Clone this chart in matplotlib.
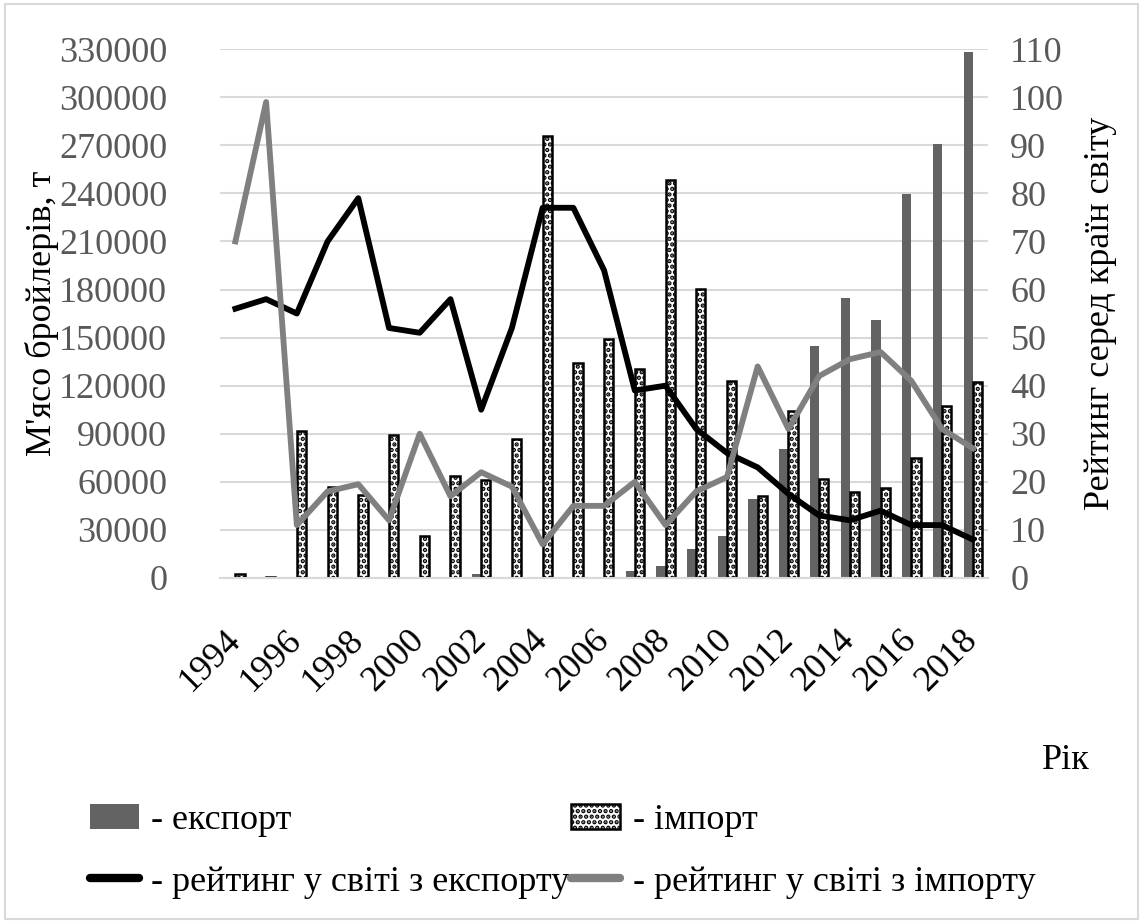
import numpy as np
import matplotlib
matplotlib.use('Agg')
import matplotlib.pyplot as plt
import matplotlib.transforms as mtransforms
from matplotlib.patches import Patch, Rectangle
from matplotlib.lines import Line2D

plt.rcParams['font.family'] = ['Liberation Serif', 'DejaVu Serif']
plt.rcParams['hatch.linewidth'] = 2.2

years = list(range(1994, 2019))
export_t = [0, 0, 0, 0, 0, 0, 0, 0, 2700, 0, 0, 0, 0, 4500, 7500, 18000,
            26500, 49000, 80500, 145000, 174500, 161000, 239500, 270500, 328500]
import_t = [2500, 800, 92000, 57000, 52000, 89500, 26000, 63500, 61000, 87000,
            276000, 134000, 149000, 130500, 248500, 180500, 123000, 51000,
            104500, 61500, 53500, 56000, 75000, 107000, 122000]
rank_export = [56, 58, 55, 70, 79, 52, 51, 58, 35, 52, 77, 77, 64, 39, 40, 31,
               26, 23, 17.5, 13, 12, 14, 11, 11, 8]
rank_import = [70, 99, 11, 18, 19.5, 12, 30, 17, 22, 19, 7, 15, 15, 20, 11, 18,
               21, 44, 31, 42, 45.5, 47, 41, 31, 27]

x = np.arange(len(years))
w = 0.3

fig = plt.figure(figsize=(11.43, 9.23), dpi=100)
ax1 = fig.add_axes([0.1925, 0.3738, 0.672, 0.573])
ax2 = ax1.twinx()

ax1.bar(x - w / 2, export_t, width=w, color='#636363', zorder=2)
ax1.bar(x + w / 2, import_t, width=w, color='white', edgecolor='black',
        hatch='...', linewidth=1.8, zorder=2)

ax2.plot(x, rank_export, color='black', linewidth=4.2)
ax2.plot(x, rank_import, color='#808080', linewidth=4.2)

ax1.set_xlim(-0.5, len(years) - 0.5)
ax1.set_ylim(0, 330000)
ax1.set_yticks(np.arange(0, 330001, 30000))
ax2.set_ylim(0, 110)
ax2.set_yticks(np.arange(0, 111, 10))

ax1.set_xticks(x[::2])
ax1.set_xticklabels([str(y) for y in years[::2]], rotation=45, ha='right',
                    va='center', rotation_mode='anchor', fontsize=26)
shift = mtransforms.ScaledTranslation(-2 / 72, 0, fig.dpi_scale_trans)
for lab in ax1.get_xticklabels():
    lab.set_transform(lab.get_transform() + shift)
ax1.tick_params(axis='x', length=0, pad=41)
ax1.tick_params(axis='y', length=0, pad=38, labelsize=26, labelcolor='#595959')
ax2.tick_params(axis='y', length=0, pad=16, labelsize=26, labelcolor='#595959')

ax1.grid(axis='y', color='#d9d9d9', linewidth=1.5, zorder=0)
ax1.set_axisbelow(True)
for ax in (ax1, ax2):
    for s in ax.spines.values():
        s.set_visible(False)
ax1.spines['bottom'].set_visible(True)
ax1.spines['bottom'].set_color('#d9d9d9')
ax1.spines['bottom'].set_linewidth(1.5)

ax1.set_ylabel("М'ясо бройлерів, т", fontsize=26, labelpad=0)
ax2.set_ylabel('Рейтинг серед країн світу', fontsize=26, labelpad=14)

fig.text(0.953, 0.176, 'Рік', fontsize=26, ha='right', va='center')

handles = [Patch(facecolor='#636363'),
           Line2D([], [], color='black', linewidth=6, solid_capstyle='round'),
           Patch(facecolor='white', edgecolor='black', hatch='...', linewidth=1.8),
           Line2D([], [], color='#808080', linewidth=6, solid_capstyle='round')]
labels = ['- експорт', '- рейтинг у світі з експорту',
          '- імпорт', '- рейтинг у світі з імпорту']
fig.legend(handles, labels, ncol=2, loc='upper left', bbox_to_anchor=(0.066, 0.145),
           frameon=False, fontsize=26, handlelength=1.35, handletextpad=0.35,
           columnspacing=0.05, labelspacing=0.8, borderaxespad=0)

fig.patches.append(Rectangle((0.004, 0.004), 0.992, 0.992, transform=fig.transFigure,
                             fill=False, edgecolor='#d9d9d9', linewidth=1.5))

fig.savefig('out.png', dpi=100)
